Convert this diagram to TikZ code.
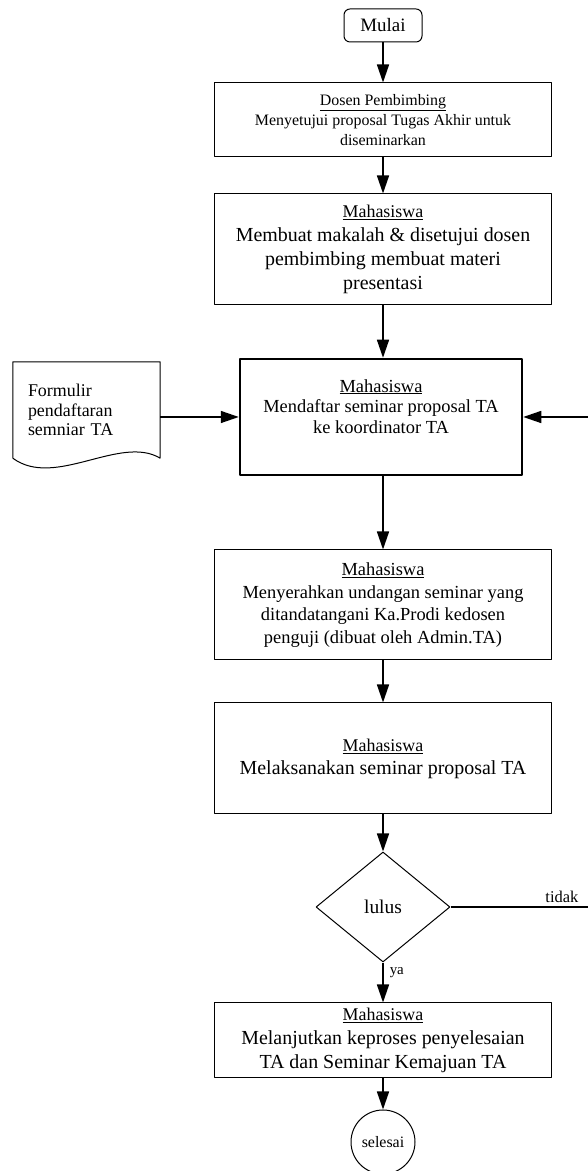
\documentclass[tikz,border=0pt]{standalone}
\usepackage{fontspec}
\setmainfont{Liberation Serif}
\usetikzlibrary{arrows.meta,shapes.geometric}
\newcommand{\peran}[1]{{\fontsize{18}{22}\selectfont\underline{#1}}}

\begin{document}
\begin{tikzpicture}[>={Triangle[length=18bp,width=12bp]},line join=bevel,
  kotak/.style={draw,line width=1bp,minimum width=337bp,inner sep=0pt,align=center},
  mulaibox/.style={draw,line width=1bp,rounded corners=6bp,minimum width=78bp,minimum height=33bp,inner sep=0pt},
  putusan/.style={draw,diamond,line width=1bp,minimum width=134bp,minimum height=110bp,inner sep=0pt},
  akhir/.style={draw,circle,line width=1bp,minimum size=64bp,inner sep=0pt},
  alur/.style={->,line width=1.5bp},
]
  \useasboundingbox (0bp,0bp) rectangle (588bp,1171bp);
%%
  % Node: mulai
  \node[mulaibox,font={\fontsize{19}{23}\selectfont}] (mulai) at (383bp,1145.5bp) {Mulai};
  % Node: dosen
  \node[kotak,minimum height=74bp,font={\fontsize{16}{20}\selectfont}] (dosen) at (383bp,1051bp) {\underline{Dosen Pembimbing}\\
            Menyetujui proposal Tugas Akhir untuk\\
            diseminarkan};
  % Node: makalah
  \node[kotak,minimum height=111bp,font={\fontsize{20}{24}\selectfont}] (makalah) at (383bp,921.5bp) {\peran{Mahasiswa}\\
            Membuat makalah \& disetujui dosen\\
            pembimbing membuat materi\\
            presentasi};
  % Node: daftar
  \node[kotak,line width=2.5bp,minimum width=282bp,minimum height=116bp,font={\fontsize{18.5}{21}\selectfont}] (daftar) at (381bp,754bp) {\underline{Mahasiswa}\\
            Mendaftar seminar proposal TA\\
            ke koordinator TA\\
            \mbox{}};
  % Node: formulir
  \node[minimum width=147bp,minimum height=96bp,inner xsep=15bp,inner ysep=0pt,text width=117bp,align=left,font={\fontsize{18}{19.5}\selectfont}] (formulir) at (86.5bp,761bp) {Formulir\\
            pendaftaran\\
            semniar TA};
  \draw[line width=1bp] (formulir.south west) -- (formulir.north west) -- (formulir.north east) -- (formulir.south east)
        .. controls +(-40bp,24bp) and +(42bp,-31bp) .. (formulir.south west);
  % Node: serah
  \node[kotak,minimum height=110bp,font={\fontsize{18.5}{22.5}\selectfont}] (serah) at (383bp,566bp) {\underline{Mahasiswa}\\
            Menyerahkan undangan seminar yang\\
            ditandatangani Ka.Prodi kedosen\\
            penguji (dibuat oleh Admin.TA)};
  % Node: laksana
  \node[kotak,minimum height=111bp,font={\fontsize{20}{23}\selectfont}] (laksana) at (383bp,412.5bp) {\peran{Mahasiswa}\\
            Melaksanakan seminar proposal TA};
  % Node: lulus
  \node[putusan,font={\fontsize{19.5}{23}\selectfont}] (lulus) at (383bp,264bp) {lulus};
  % Node: lanjut
  \node[kotak,minimum height=75bp,font={\fontsize{20}{24}\selectfont}] (lanjut) at (383bp,130.5bp) {\peran{Mahasiswa}\\
            Melanjutkan keproses penyelesaian\\
            TA dan Seminar Kemajuan TA};
  % Node: selesai
  \node[akhir,font={\fontsize{16}{19}\selectfont}] (selesai) at (383bp,29bp) {selesai};
  % free ends at the right border
  \coordinate (tidakujung) at (588bp,264bp);
  \coordinate (kembali) at (588bp,754bp);
%%
  % Edge: mulai -> dosen
  \draw[alur] (mulai) -- (dosen);
  % Edge: dosen -> makalah
  \draw[alur] (dosen) -- (makalah);
  % Edge: makalah -> daftar
  \draw[alur] (makalah.south) -- (makalah.south |- daftar.north);
  % Edge: formulir -> daftar
  \draw[alur] (formulir.east |- daftar.west) -- (daftar.west);
  % Edge: kembali -> daftar
  \draw[alur] (kembali) -- (daftar.east);
  % Edge: daftar -> serah
  \draw[alur] (serah.north |- daftar.south) -- (serah.north);
  % Edge: serah -> laksana
  \draw[alur] (serah) -- (laksana);
  % Edge: laksana -> lulus
  \draw[alur] (laksana) -- (lulus);
  % Edge: lulus -> lanjut
  \draw[alur] (lulus) -- node[pos=0.25,right=6bp,inner sep=0pt,font={\fontsize{15}{18}\selectfont}] {ya} (lanjut);
  % Edge: lulus -> tidakujung
  \draw[line width=1.5bp] (lulus.east) -- node[pos=0.81,above=4bp,inner sep=0pt,font={\fontsize{16.5}{20}\selectfont}] {tidak} (tidakujung);
  % Edge: lanjut -> selesai
  \draw[alur] (lanjut) -- (selesai);
%
\end{tikzpicture}
\end{document}
